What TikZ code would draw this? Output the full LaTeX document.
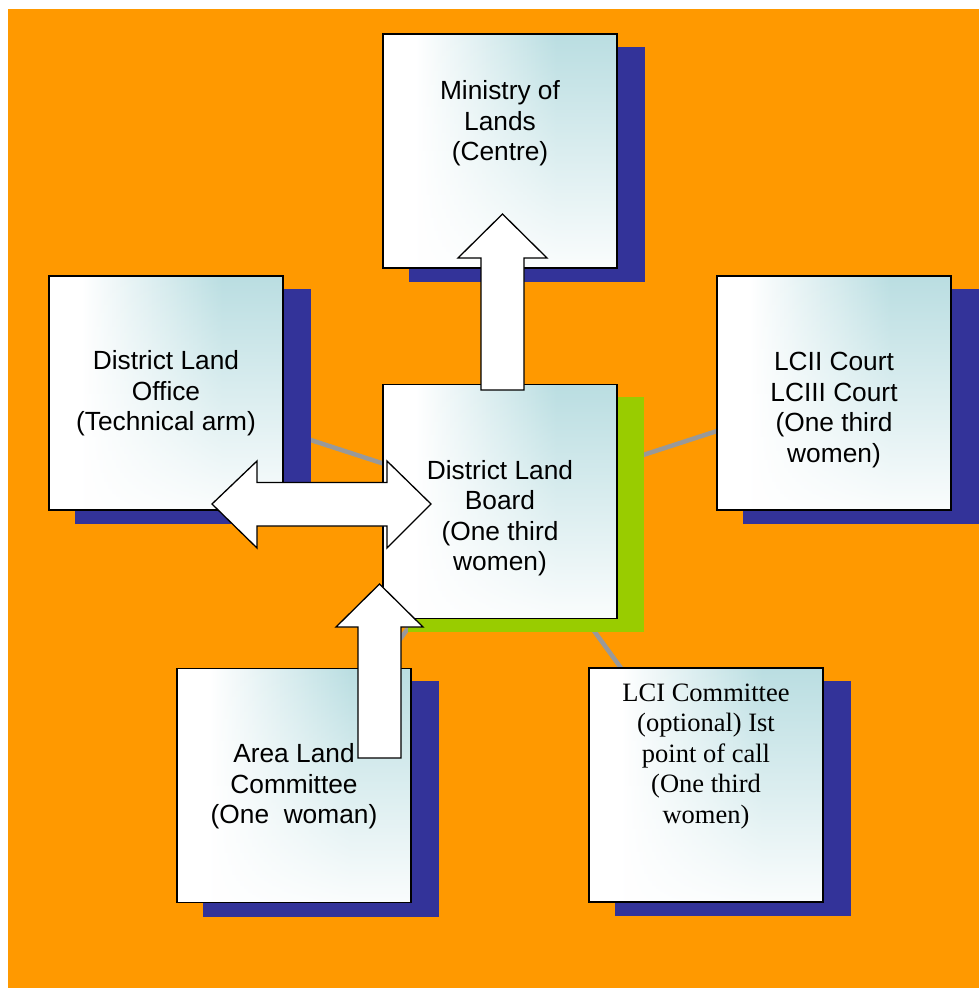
\documentclass[tikz,border=0pt]{standalone}
\usepackage{fontspec}
\setmainfont{Liberation Sans}
\newfontfamily\timesfont{Liberation Serif}
\usetikzlibrary{fadings,calc}
\definecolor{bgorange}{HTML}{FF9900}
\definecolor{shadowblue}{HTML}{333399}
\definecolor{shadowgreen}{HTML}{99CC00}
\definecolor{linegrey}{HTML}{999999}
\definecolor{boxteal}{RGB}{182,220,224}
\pgfdeclarehorizontalshading{boxh}{100bp}{color(0bp)=(white); color(32bp)=(white); color(62bp)=(boxteal); color(100bp)=(boxteal)}
\begin{tikzfadingfrompicture}[name=boxfade]
  \shade[top color=transparent!0, middle color=transparent!35, bottom color=transparent!100] (0,0) rectangle (2,2);
\end{tikzfadingfrompicture}
\pgfdeclarelayer{bglayer}
\pgfdeclarelayer{linelayer}
\pgfdeclarelayer{shadowlayer}
\pgfdeclarelayer{frontlayer}
\pgfsetlayers{bglayer,linelayer,shadowlayer,main,frontlayer}
\tikzset{
  box/.style={rectangle, draw=black, line width=1.4pt, fill=white,
    minimum width=234pt, minimum height=234pt, inner sep=0pt,
    path picture={\shade[shading=boxh, path fading=boxfade]
      (path picture bounding box.north west) rectangle (path picture bounding box.south east);}},
  lbl/.style={align=center, inner sep=0pt, font=\fontsize{26.3}{30.5}\selectfont},
  serlbl/.style={lbl, font=\timesfont\fontsize{26.5}{30.5}\selectfont},
  conn/.style={draw=linegrey, line width=4.5pt},
  blockarrow/.style={fill=white, draw=black, line width=1.3pt, line join=miter},
}
\begin{document}
\begin{tikzpicture}[x=1pt,y=-1pt]
\useasboundingbox (0,0) rectangle (979,988);
\begin{pgfonlayer}{bglayer}
  \fill[bgorange] (8,9) rectangle (979,988);
\end{pgfonlayer}

% boxes
\node[box] (min) at (500,151) {};
\node[box] (dlb) at (500,501.5) {};
\node[box] (dlo) at (166,393) {};
\node[box] (lcii) at (834,393) {};
\node[box] (alc) at (294,785.5) {};
\node[box] (lci) at (706,785) {};

% shadows
\begin{pgfonlayer}{shadowlayer}
  \foreach \b in {min,dlo,lcii,alc,lci}{
    \fill[shadowblue] ($(\b.north west)+(27,13.5)$) rectangle ($(\b.south east)+(27,13.5)$);
  }
  \fill[shadowgreen] ($(dlb.north west)+(26,13)$) rectangle ($(dlb.south east)+(26,13)$);
\end{pgfonlayer}

% connectors
\begin{pgfonlayer}{linelayer}
  \draw[conn] (dlb.center) -- (min.center);
  \draw[conn] (dlb.center) -- (dlo.center);
  \draw[conn] (dlb.center) -- (lcii.center);
  \draw[conn] (dlb.center) -- (alc.center);
  \draw[conn] (dlb.center) -- (lci.center);
\end{pgfonlayer}

\begin{pgfonlayer}{frontlayer}
  % up arrow to ministry
  \draw[blockarrow] (481,390) -- (481,258) -- (458,258) -- (502.5,214) -- (547,258) -- (524,258) -- (524,390) -- cycle;
  % double arrow DLO <-> DLB
  \draw[blockarrow] (212,504) -- (257,461) -- (257,482.5) -- (387,482.5) -- (387,461) -- (431,504)
    -- (387,548) -- (387,526) -- (257,526) -- (257,548) -- cycle;
  % up arrow ALC -> DLB
  \draw[blockarrow] (358,758) -- (358,627) -- (336,627) -- (379.5,584) -- (423,627) -- (401,627) -- (401,758) -- cycle;

  % labels
  \node[lbl] (minT) at (500,123.5) {Ministry of\\Lands\\(Centre)};
  \node[lbl] (dlbT) at (500,518) {District Land\\Board\\(One third\\women)};
  \node[lbl] (dloT) at (166,393.5) {District Land\\Office\\(Technical arm)};
  \node[lbl] (lciiT) at (834,410) {LCII Court\\LCIII Court\\(One third\\women)};
  \node[lbl] (alcT) at (294,786.5) {Area Land\\Committee\\(One\ \ woman)};
  \node[serlbl] (lciT) at (706,756.5) {LCI Committee\\(optional) Ist\\point of call\\(One third\\women)};
\end{pgfonlayer}
\end{tikzpicture}
\end{document}
